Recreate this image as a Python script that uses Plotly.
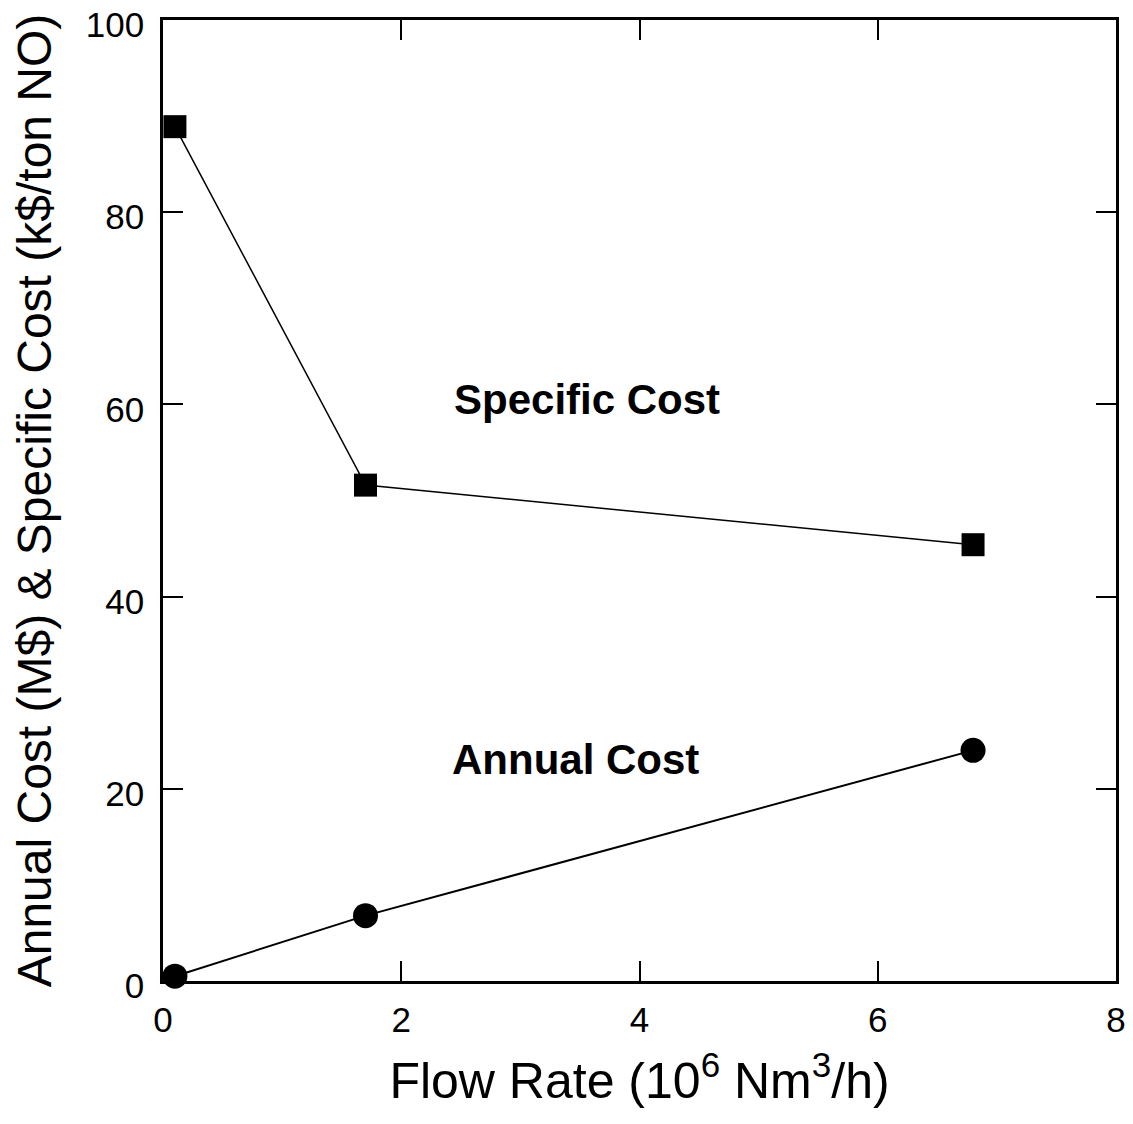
import plotly.graph_objects as go

flow_rate = [0.1, 1.7, 6.8]
specific_cost = [88.9, 51.6, 45.4]
annual_cost = [0.5, 6.8, 24.0]

x_ticks = [0, 2, 4, 6, 8]
y_ticks = [0, 20, 40, 60, 80, 100]

font_family = "Liberation Sans, Arial, sans-serif"

fig = go.Figure()
fig.add_trace(go.Scatter(
    x=flow_rate, y=specific_cost, mode="lines+markers",
    line=dict(color="black", width=1.5),
    marker=dict(symbol="square", size=23, color="black"),
    cliponaxis=False, showlegend=False, name="Specific Cost"))
fig.add_trace(go.Scatter(
    x=flow_rate, y=annual_cost, mode="lines+markers",
    line=dict(color="black", width=2),
    marker=dict(symbol="circle", size=25, color="black"),
    cliponaxis=False, showlegend=False, name="Annual Cost"))

fig.add_annotation(x=3.56, y=60.5, text="<b>Specific Cost</b>", showarrow=False,
                   font=dict(size=42, color="black", family=font_family))
fig.add_annotation(x=3.46, y=23.0, text="<b>Annual Cost</b>", showarrow=False,
                   font=dict(size=42, color="black", family=font_family))

axis_common = dict(
    showgrid=False, zeroline=False, showline=True, linecolor="black", linewidth=2.5,
    mirror="allticks", ticks="inside", ticklen=20, tickwidth=1.5, tickcolor="black",
    tickfont=dict(size=35, color="black", family=font_family), automargin=False,
    ticklabeloverflow="allow",
)

fig.update_xaxes(range=[0, 8], tickvals=x_ticks, ticktext=[str(v) for v in x_ticks],
                 ticklabelstandoff=6,
                 title=dict(text="Flow Rate (10<sup>6</sup> Nm<sup>3</sup>/h)",
                            font=dict(size=50, color="black", family=font_family), standoff=26),
                 **axis_common)
fig.update_yaxes(range=[0, 100], tickvals=y_ticks, ticktext=[str(v) for v in y_ticks],
                 ticklabelstandoff=9, ticklabelshift=5,
                 title=dict(text="Annual Cost (M$) & Specific Cost (k$/ton NO)",
                            font=dict(size=48, color="black", family=font_family), standoff=35),
                 **axis_common)

fig.update_layout(
    width=1117, height=1108,
    margin=dict(l=155, r=9, t=12, b=135),
    plot_bgcolor="white", paper_bgcolor="white",
)

fig.write_html("out.html")
